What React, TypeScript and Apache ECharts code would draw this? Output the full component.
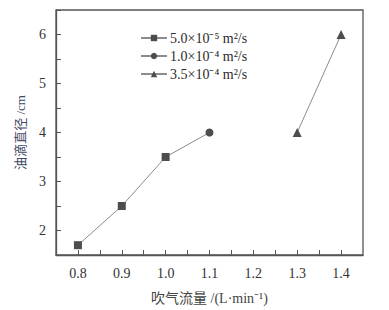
import React, { useEffect, useRef } from "react";
import * as echarts from "echarts";

const xTicks = [0.8, 0.9, 1.0, 1.1, 1.2, 1.3, 1.4];
const seriesNames = ["5.0×10⁻⁵ m²/s", "1.0×10⁻⁴ m²/s", "3.5×10⁻⁴ m²/s"];
const s1x = [0.8, 0.9, 1.0];
const s1y = [1.7, 2.5, 3.5];
const s2x = [1.1];
const s2y = [4.0];
const s3x = [1.3, 1.4];
const s3y = [4.0, 6.0];

const FONT = "'Liberation Serif', 'Times New Roman', serif";
const MIX = "'Liberation Serif', 'Noto Sans CJK SC', serif";

export default function App() {
  const ref = useRef<HTMLDivElement>(null);
  useEffect(() => {
    const chart = echarts.init(ref.current!, null, { renderer: "svg" });
    const lineStyle = { color: "#8c8c8c", width: 1 };
    const itemStyle = { color: "#4d4d4d" };
    const s2data: any[] = [
      { value: [s1x[s1x.length - 1], s1y[s1y.length - 1]], symbol: "none" },
      ...s2x.map((x, i) => [x, s2y[i]]),
    ];
    chart.setOption({
      animation: false,
      grid: { left: 56, right: 26, top: 10, bottom: 51, show: true, borderColor: "#555", borderWidth: 1.3, backgroundColor: "transparent" },
      legend: {
        orient: "vertical",
        left: 135,
        top: 26,
        itemWidth: 26,
        itemHeight: 8,
        itemGap: 4,
        data: seriesNames,
        textStyle: { fontFamily: FONT, fontSize: 14, color: "#2a2a2a", padding: [0, 0, 0, -2] },
      },
      xAxis: {
        type: "value",
        min: 0.75,
        max: 1.45,
        interval: 0.05,
        axisLine: { lineStyle: { color: "#555", width: 1.3 } },
        axisTick: { inside: true, length: 5, lineStyle: { color: "#555" } },
        splitLine: { show: false },
        axisLabel: {
          fontFamily: FONT,
          fontSize: 14,
          color: "#333",
          margin: 11,
          showMinLabel: false,
          showMaxLabel: false,
          formatter: (v: number) => {
            const r = Math.round(v * 100) / 100;
            const hit = xTicks.find((t) => Math.abs(t - r) < 1e-6);
            return hit !== undefined ? hit.toFixed(1) : "";
          },
        },
        name: "吹气流量 /(L·min⁻¹)",
        nameLocation: "middle",
        nameGap: 36,
        nameTextStyle: { fontFamily: MIX, fontSize: 14, color: "#444" },
      },
      yAxis: {
        type: "value",
        min: 1.5,
        max: 6.5,
        interval: 0.5,
        axisLine: { lineStyle: { color: "#555", width: 1.3 } },
        axisTick: { inside: true, length: 5, lineStyle: { color: "#555" } },
        splitLine: { show: false },
        axisLabel: {
          fontFamily: FONT,
          fontSize: 14,
          color: "#333",
          margin: 10,
          formatter: (v: number) => (Math.abs(v - Math.round(v)) < 1e-6 ? String(Math.round(v)) : ""),
        },
        name: "油滴直径 /cm",
        nameLocation: "middle",
        nameGap: 29,
        nameTextStyle: { fontFamily: MIX, fontSize: 13, color: "#3f4a63" },
      },
      series: [
        {
          name: seriesNames[0],
          type: "line",
          symbol: "rect",
          symbolSize: 8,
          lineStyle,
          itemStyle,
          data: s1x.map((x, i) => [x, s1y[i]]),
        },
        {
          name: seriesNames[1],
          type: "line",
          symbol: "circle",
          symbolSize: 8,
          lineStyle,
          itemStyle,
          data: s2data,
        },
        {
          name: seriesNames[2],
          type: "line",
          symbol: "triangle",
          symbolSize: 9,
          lineStyle,
          itemStyle,
          data: s3x.map((x, i) => [x, s3y[i]]),
        },
      ],
    });
    return () => chart.dispose();
  }, []);
  return <div ref={ref} style={{ width: 389, height: 310, position: "absolute", left: 0, top: 0 }} />;
}
